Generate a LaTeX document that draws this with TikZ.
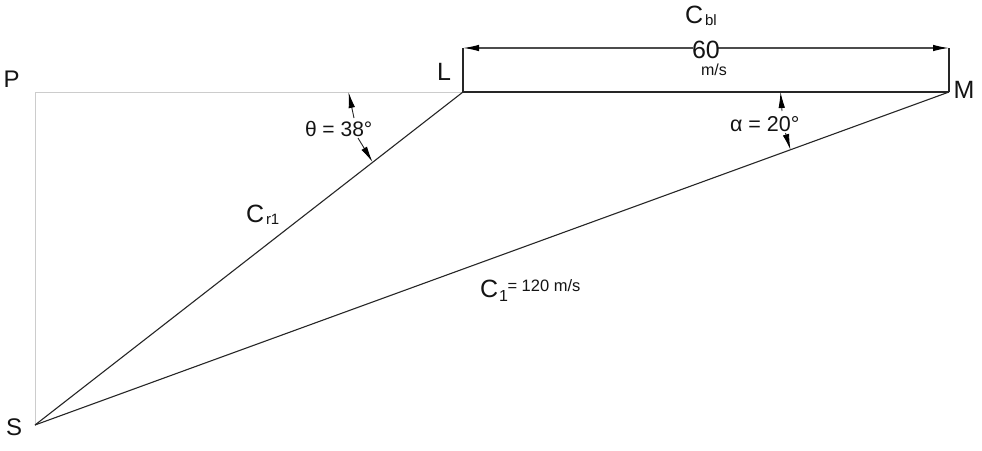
\documentclass[tikz,border=0pt]{standalone}
\usepackage{fontspec}
\setmainfont{Liberation Sans}
\usetikzlibrary{arrows.meta}
\newcommand{\fs}[1]{\fontsize{#1}{#1}\selectfont}
\tikzset{
  main/.style={line width=1.1pt,color=black!85},
  faint/.style={line width=1pt,color=black!20},
  dim/.style={line width=0.9pt,color=black!85},
  top/.style={line width=1.3pt,color=black!70},
  longtip/.style={-{Latex[length=16pt,width=6.5pt,black]}},
  lab/.style={inner sep=0pt,outer sep=0pt,anchor=base west,text=black!92},
}
\begin{document}
\begin{tikzpicture}[x=1pt,y=-1pt]
\useasboundingbox (0,0) rectangle (982,450);
\fill[white] (0,0) rectangle (982,450);
\coordinate (S) at (35,425);
\coordinate (L) at (463,92);
\coordinate (M) at (949,92);
\coordinate (P) at (35,92);
\coordinate (TL) at (463,48);
\coordinate (TM) at (949,48);
\coordinate (MidTa) at (693,48);
\coordinate (MidTb) at (718,48);
\coordinate (T1) at (348.5,92);
\coordinate (T1e) at (354,118);
\coordinate (T2) at (372.5,162);
\coordinate (T2e) at (358,138);
\coordinate (A1) at (780.5,92);
\coordinate (A1e) at (782,111);
\coordinate (A2) at (790.5,150);
\coordinate (A2e) at (785.5,133);
\draw[faint] (P) -- (L);
\draw[faint] (P) -- (S);
\draw[main] (S) -- (L);
\draw[main] (S) -- (M);
\draw[main] (L) -- (M);
\draw[main] (L) -- (TL);
\draw[main] (M) -- (TM);
\draw[top,longtip] (MidTa) -- (TL);
\draw[top,longtip] (MidTb) -- (TM);
\draw[dim,longtip] (T1e) -- (T1);
\draw[dim,longtip] (T2e) -- (T2);
\draw[dim,longtip] (A1e) -- (A1);
\draw[dim,longtip] (A2e) -- (A2);
\node[lab] (nP) at (3.5,87) {\fs{24}P};
\node[lab] (nL) at (437,80) {\fs{25}L};
\node[lab] (nM) at (953.5,98) {\fs{25}M};
\node[lab] (nS) at (6,435) {\fs{24}S};
\node[lab] (nCb) at (685,23) {\fs{25}C};
\node[lab] (nbl) at (705,25) {\fs{15}bl};
\node[lab] (n60) at (692,58) {\fs{25}60};
\node[lab] (nms) at (701,75) {\fs{16}m/s};
\node[lab] (nt) at (305,136) {\fs{21}θ = 38°};
\node[lab] (na) at (730,131) {\fs{21.5}α = 20°};
\node[lab] (nCr) at (246,222) {\fs{25}C};
\node[lab] (nr1) at (266,224) {\fs{15}r1};
\node[lab] (nC1) at (480,297) {\fs{25}C};
\node[lab] (n1) at (499,301) {\fs{16}1};
\node[lab] (n120) at (507.5,291) {\fs{16.5}= 120 m/s};
\end{tikzpicture}
\end{document}
